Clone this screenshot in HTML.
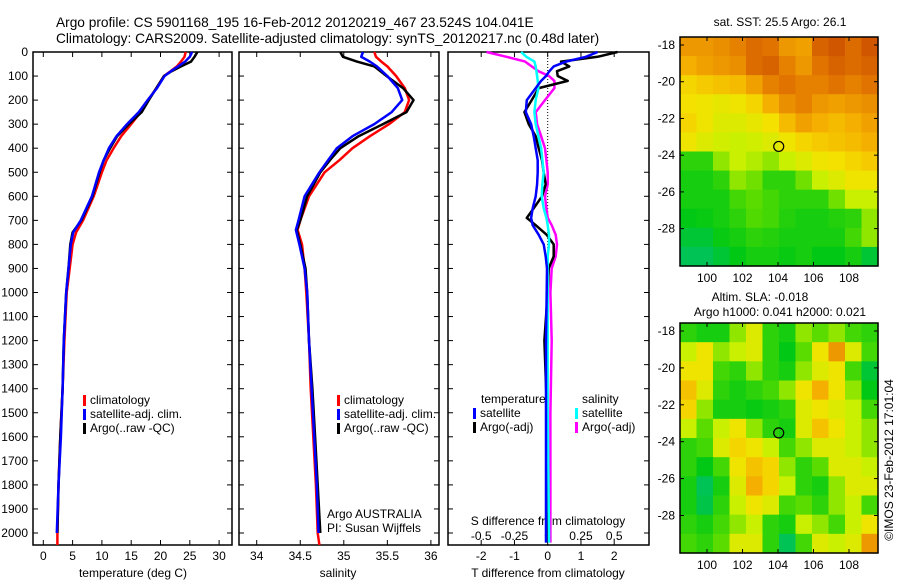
<!DOCTYPE html>
<html><head><meta charset="utf-8"><style>
body{margin:0;background:#fff;}
svg{display:block;font-family:"Liberation Sans",sans-serif;}
text{font-size:12px;fill:#000;}
</style></head><body>
<svg id="c" width="900" height="580" viewBox="0 0 900 580">
<text x="56" y="27" style="font-size:13.7px">Argo profile: CS 5901168_195 16-Feb-2012 20120219_467 23.524S 104.041E</text>
<text x="56" y="43" style="font-size:13.7px">Climatology: CARS2009. Satellite-adjusted climatology: synTS_20120217.nc (0.48d later)</text>
</svg>
<script>
// ---- data ----
const depthsT = [0,20,40,60,80,100,150,200,250,300,350,400,450,500,600,700,750,800,900,1000,1200,1400,1600,1800,2000,2050];
const tempClim = [24.3,24.1,23.5,22.8,21.7,20.6,19.3,17.9,16.6,15.0,13.3,12.0,10.8,10.0,8.6,6.8,5.6,5.0,4.5,4.0,3.6,3.3,2.9,2.6,2.4,2.4];
const tempSat = [25.4,25.0,24.2,23.0,21.8,20.7,19.4,17.8,16.3,14.3,12.5,11.2,10.3,9.5,8.3,6.4,5.1,4.7,4.3,3.9,3.5,3.3,3.0,2.6,2.3];
const tempArgo = [26.3,25.8,25.2,23.5,21.9,20.6,19.3,18.0,16.8,14.6,12.6,11.4,10.3,9.6,8.4,6.5,5.0,4.6,4.3,3.9,3.5,3.3,2.9,2.6,2.4];
const depthsS = [0,20,40,60,100,150,200,250,300,350,400,450,500,600,700,740,800,900,1000,1200,1400,1600,1800,2000,2050];
const salClim = [35.35,35.37,35.43,35.5,35.6,35.7,35.75,35.7,35.52,35.3,35.1,34.95,34.78,34.6,34.5,34.47,34.52,34.55,34.57,34.6,34.62,34.65,34.68,34.7,34.72];
const salSat = [35.22,35.2,35.3,35.38,35.5,35.62,35.67,35.55,35.35,35.1,34.92,34.82,34.72,34.55,34.48,34.45,34.49,34.55,34.58,34.6,34.63,34.66,34.69,34.71];
const salArgo = [34.96,34.99,35.15,35.35,35.49,35.68,35.8,35.72,35.45,35.17,34.96,34.84,34.73,34.58,34.5,34.46,34.5,34.56,34.58,34.6,34.64,34.67,34.7,34.73];
const depthsD = [0,20,40,60,80,100,120,150,200,250,300,350,400,450,500,550,600,650,690,720,760,800,850,900,1000,1200,1500,2000,2040];
const dTSat = [1.5,1.15,0.55,0.18,0.05,-0.05,-0.2,-0.36,-0.63,-0.66,-0.5,-0.42,-0.36,-0.3,-0.3,-0.32,-0.36,-0.45,-0.5,-0.45,-0.27,-0.12,-0.06,-0.02,-0.03,-0.05,-0.05,-0.05,-0.05];
const dTArgo = [2.1,1.5,0.4,0.65,0.28,0.3,0.6,-0.27,-0.48,-0.7,-0.57,-0.36,-0.27,-0.17,-0.12,-0.06,-0.17,-0.42,-0.63,-0.36,-0.03,0.18,0.18,0.03,0.0,-0.1,-0.02,-0.03,-0.03];
const dSSat = [-0.2,-0.16,-0.1,-0.09,-0.085,-0.08,-0.075,-0.07,-0.09,-0.1,-0.09,-0.07,-0.05,-0.04,-0.03,-0.04,-0.045,-0.03,-0.01,0.0,0.01,0.01,0.0,0.0,0.0,0.0,0.0,0.01,0.01];
const dSArgo = [-0.46,-0.31,-0.17,-0.12,-0.07,0.01,0.05,0.05,-0.02,-0.09,-0.08,-0.05,-0.02,-0.01,0.0,0.0,-0.02,-0.01,0.0,0.03,0.06,0.07,0.06,0.03,0.02,0.03,0.02,0.02,0.02];
const depthTicks = [0,100,200,300,400,500,600,700,800,900,1000,1100,1200,1300,1400,1500,1600,1700,1800,1900,2000];
const tempTicks = [0,5,10,15,20,25,30];
const salTicks = [34,34.5,35,35.5,36];
const dTTicks = [-2,-1,0,1,2];
const dSTicks = [-0.5,-0.25,0,0.25,0.5];
const sstLabel = ["sat. SST: 25.5 Argo: 26.1"];
const sstGrid = [
[0.8,0.8,0.82,0.85,0.9,0.88,0.8,0.78,0.92,0.95,0.9,0.95],
[0.75,0.78,0.8,0.82,0.9,0.92,0.85,0.8,0.88,0.92,0.9,0.92],
[0.65,0.68,0.7,0.72,0.78,0.85,0.88,0.85,0.85,0.88,0.85,0.88],
[0.62,0.6,0.58,0.6,0.65,0.75,0.82,0.85,0.8,0.78,0.8,0.82],
[0.65,0.6,0.55,0.55,0.58,0.62,0.72,0.78,0.75,0.72,0.75,0.78],
[0.6,0.55,0.52,0.5,0.52,0.55,0.6,0.65,0.68,0.7,0.72,0.75],
[0.3,0.3,0.45,0.5,0.48,0.45,0.5,0.55,0.6,0.62,0.65,0.68],
[0.25,0.25,0.3,0.45,0.42,0.3,0.3,0.42,0.5,0.55,0.6,0.6],
[0.25,0.25,0.25,0.35,0.4,0.35,0.3,0.3,0.3,0.42,0.5,0.5],
[0.2,0.22,0.25,0.3,0.38,0.35,0.28,0.25,0.25,0.28,0.3,0.45],
[0.15,0.15,0.22,0.25,0.3,0.28,0.25,0.25,0.25,0.25,0.35,0.45],
[0.1,0.1,0.15,0.2,0.25,0.25,0.22,0.25,0.2,0.2,0.25,0.15]];
const slaGrid = [
[0.3,0.25,0.25,0.45,0.55,0.3,0.25,0.45,0.4,0.45,0.35,0.3],
[0.5,0.6,0.45,0.5,0.55,0.3,0.2,0.4,0.6,0.8,0.55,0.35],
[0.6,0.6,0.35,0.3,0.45,0.3,0.25,0.45,0.55,0.6,0.35,0.15],
[0.7,0.55,0.3,0.25,0.3,0.35,0.45,0.6,0.75,0.6,0.45,0.2],
[0.65,0.45,0.25,0.25,0.22,0.25,0.3,0.55,0.6,0.55,0.5,0.35],
[0.5,0.4,0.5,0.6,0.45,0.3,0.25,0.55,0.7,0.6,0.5,0.45],
[0.3,0.35,0.55,0.65,0.6,0.5,0.35,0.45,0.55,0.55,0.5,0.45],
[0.3,0.2,0.35,0.6,0.7,0.65,0.45,0.3,0.4,0.55,0.55,0.5],
[0.25,0.1,0.25,0.55,0.75,0.65,0.5,0.3,0.25,0.45,0.55,0.55],
[0.25,0.12,0.3,0.5,0.6,0.55,0.35,0.4,0.3,0.45,0.5,0.35],
[0.3,0.25,0.35,0.45,0.5,0.3,0.25,0.5,0.45,0.35,0.5,0.6],
[0.35,0.3,0.4,0.55,0.55,0.3,0.1,0.35,0.55,0.5,0.55,0.8]];
const lonTicks = [100,102,104,106,108];
const latTicks = [-18,-20,-22,-24,-26,-28];
const argoPos = [104.041,-23.524];

const svg = document.getElementById('c');
const NS = 'http://www.w3.org/2000/svg';
function mk(tag, attrs, parent){const e=document.createElementNS(NS,tag);for(const k in attrs)e.setAttribute(k,attrs[k]);(parent||svg).appendChild(e);return e;}
function txt(x,y,s,anchor){const t=mk('text',{x:x,y:y,'text-anchor':anchor||'start'});t.textContent=s;return t;}

const yD = d => 52 + d*0.2405;
const PB = 545;
function panel(x0,x1,name){
  const r = mk('rect',{x:x0,y:52,width:x1-x0,height:PB-52,fill:'none',stroke:'#000','stroke-width':1.5});
  
  
  depthTicks.forEach(d=>{mk('line',{x1:x0,x2:x0+5,y1:yD(d),y2:yD(d),stroke:'#000'});mk('line',{x1:x1-5,x2:x1,y1:yD(d),y2:yD(d),stroke:'#000'});});
}
function line(xs,ds,xf,color,name,w){
  let p='';
  xs.forEach((v,i)=>{p+=(i?'L':'M')+xf(v).toFixed(1)+','+yD(ds[i]).toFixed(1);});
  const e=mk('path',{d:p,fill:'none',stroke:color,'stroke-width':w||2.5,'stroke-linejoin':'round'});
  
  
}
// panel 1 temperature
const xT = v => 43.3 + v*5.86;
panel(33,232,'temperature-panel');
depthTicks.forEach(d=>{const t=txt(28,yD(d)+4,String(d),'end');});
tempTicks.forEach(v=>{mk('line',{x1:xT(v),x2:xT(v),y1:PB,y2:PB-5,stroke:'#000'});mk('line',{x1:xT(v),x2:xT(v),y1:52,y2:57,stroke:'#000'});const t=txt(xT(v),560,String(v),'middle');});
let tl=txt(133,577,'temperature (deg C)','middle');
line(tempClim,depthsT,xT,'#f00','temp-climatology-line');
line(tempArgo,depthsT,xT,'#000','temp-argo-line');
line(tempSat,depthsT,xT,'#00f','temp-satellite-line');
// panel 2 salinity
const xS = v => 256.7 + (v-34)*87.1;
panel(239,439,'salinity-panel');
salTicks.forEach(v=>{mk('line',{x1:xS(v),x2:xS(v),y1:PB,y2:PB-5,stroke:'#000'});mk('line',{x1:xS(v),x2:xS(v),y1:52,y2:57,stroke:'#000'});const t=txt(xS(v),560,String(v),'middle');});
tl=txt(338,577,'salinity','middle');
line(salClim,depthsS,xS,'#f00','sal-climatology-line');
line(salArgo,depthsS,xS,'#000','sal-argo-line');
line(salSat,depthsS,xS,'#00f','sal-satellite-line');
// legends
function legend(x,y,items,name){
  const g=mk('g',{});
  items.forEach((it,i)=>{mk('rect',{x:x,y:y+i*14-9,width:3,height:11,fill:it[1]},g);const t=mk('text',{x:x+7,y:y+i*14},g);t.textContent=it[0];});
}
const legItems=[['climatology','#f00'],['satellite-adj. clim.','#00f'],['Argo(..raw -QC)','#000']];
legend(83,404,legItems,'temp-legend');
legend(337,404,legItems,'sal-legend');
tl=txt(327,518,'Argo AUSTRALIA');
tl=txt(327,532,'PI: Susan Wijffels');
// panel 3 differences
const xDT = v => 547.7 + v*33.25;
const xDS = v => 547.7 + v*133;
panel(448,649,'difference-panel');
mk('line',{x1:xDT(0),x2:xDT(0),y1:52,y2:PB,stroke:'#000','stroke-dasharray':'1,2'});
dTTicks.forEach(v=>{mk('line',{x1:xDT(v),x2:xDT(v),y1:PB,y2:PB-5,stroke:'#000'});mk('line',{x1:xDT(v),x2:xDT(v),y1:52,y2:57,stroke:'#000'});const t=txt(xDT(v),560,String(v),'middle');});
dSTicks.forEach(v=>{const t=txt(xDS(v),540,String(v),'middle');});
tl=txt(548,525,'S difference from climatology','middle');
tl=txt(548,577,'T difference from climatology','middle');
line(dSArgo,depthsD,xDS,'#f0f','sdiff-argo-line');
line(dTArgo,depthsD,xDT,'#000','tdiff-argo-line');
line(dSSat,depthsD,xDS,'#0ff','sdiff-satellite-line');
line(dTSat,depthsD,xDT,'#00f','tdiff-satellite-line');
tl=txt(481,403,'temperature');
tl=txt(582,403,'salinity');
legend(473,417,[['satellite','#00f'],['Argo(-adj)','#000']],'tdiff-legend');
legend(575,417,[['satellite','#0ff'],['Argo(-adj)','#f0f']],'sdiff-legend');
// maps
const stops=[[0,[0,190,150]],[0.2,[0,200,20]],[0.4,[90,220,0]],[0.5,[200,240,0]],[0.62,[245,225,0]],[0.75,[245,175,0]],[0.88,[225,115,0]],[1,[195,65,0]]];
function col(v){for(let i=1;i<stops.length;i++){if(v<=stops[i][0]){const a=stops[i-1],b=stops[i];const f=(v-a[0])/(b[0]-a[0]);return 'rgb('+a[1].map((c,k)=>Math.round(c+(b[1][k]-c)*f)).join(',')+')';}}return 'rgb(195,65,0)';}
function map(grid,y0,y1,name){
  const x0=680,x1=878;
  const lonX = lon => 707 + (lon-100)*17.75;
  const latY = lat => y0 + 8 + (-18-lat)*((y1-y0-16)/11.6);
  const g=mk('g',{});
  const nr=grid.length,nc=grid[0].length,cw=(x1-x0)/nc,ch=(y1-y0)/nr;
  grid.forEach((row,r)=>row.forEach((v,c)=>{
    const e=mk('rect',{x:(x0+c*cw).toFixed(2),y:(y0+r*ch).toFixed(2),width:(cw+0.6).toFixed(2),height:(ch+0.6).toFixed(2),fill:col(v)},g);
    
    
  }));
  mk('rect',{x:x0,y:y0,width:x1-x0,height:y1-y0,fill:'none',stroke:'#000','stroke-width':1.5});
  lonTicks.forEach(l=>{mk('line',{x1:lonX(l),x2:lonX(l),y1:y1,y2:y1-4,stroke:'#000'});mk('line',{x1:lonX(l),x2:lonX(l),y1:y0,y2:y0+4,stroke:'#000'});const t=txt(lonX(l),y1+16,String(l),'middle');});
  latTicks.forEach(l=>{mk('line',{x1:x0,x2:x0+4,y1:latY(l),y2:latY(l),stroke:'#000'});mk('line',{x1:x1-4,x2:x1,y1:latY(l),y2:latY(l),stroke:'#000'});const t=txt(675,latY(l)+4,String(l),'end');});
  const c=mk('circle',{cx:lonX(argoPos[0]),cy:latY(argoPos[1]),r:5,fill:'none',stroke:'#000','stroke-width':1.2});
  
  
}
map(sstGrid,37,266,'sst-map');
map(slaGrid,323,553,'sla-map');
tl=txt(780,26,sstLabel[0],'middle');
tl=txt(760,301,'Altim. SLA: -0.018','middle');
tl=txt(780,316,'Argo h1000: 0.041 h2000: 0.021','middle');
tl=txt(0,0,'©IMOS 23-Feb-2012 17:01:04','middle');tl.setAttribute('transform','translate(893,460) rotate(-90)');
</script>
</body></html>
